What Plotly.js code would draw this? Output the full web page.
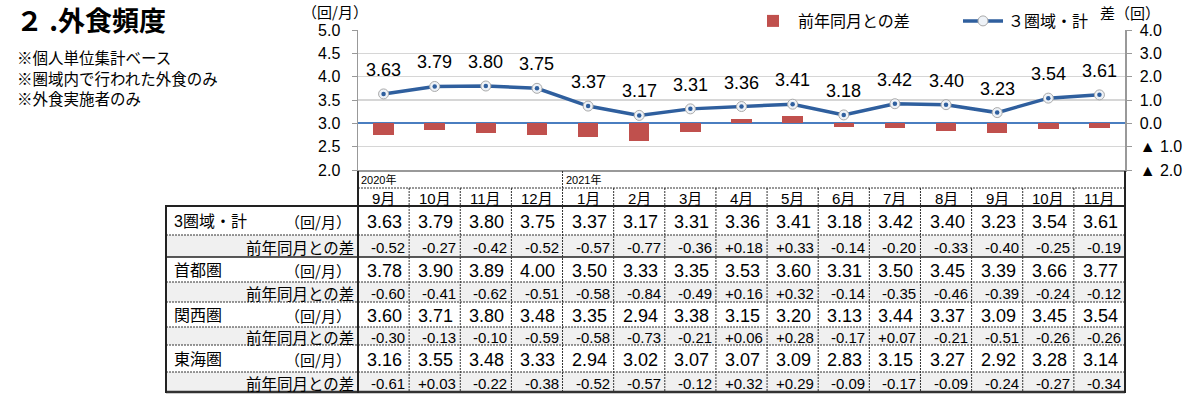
<!DOCTYPE html>
<html><head><meta charset="utf-8">
<script src="https://cdn.plot.ly/plotly-3.0.1.min.js"></script>
<style>html,body{margin:0;padding:0;background:#fff;} #chart{width:1200px;height:394px;}</style>
</head><body><div id="chart"></div>
<script>
// ---------------- data ----------------
const months = ['9月','10月','11月','12月','1月','2月','3月','4月','5月','6月','7月','8月','9月','10月','11月'];
const yearLabels = ['2020年','2021年'];
const yearStartIndex = [0, 4];

const total     = [3.63,3.79,3.80,3.75,3.37,3.17,3.31,3.36,3.41,3.18,3.42,3.40,3.23,3.54,3.61];
const totalDiff = [-0.52,-0.27,-0.42,-0.52,-0.57,-0.77,-0.36,0.18,0.33,-0.14,-0.20,-0.33,-0.40,-0.25,-0.19];
const shuto     = [3.78,3.90,3.89,4.00,3.50,3.33,3.35,3.53,3.60,3.31,3.50,3.45,3.39,3.66,3.77];
const shutoDiff = [-0.60,-0.41,-0.62,-0.51,-0.58,-0.84,-0.49,0.16,0.32,-0.14,-0.35,-0.46,-0.39,-0.24,-0.12];
const kansai    = [3.60,3.71,3.80,3.48,3.35,2.94,3.38,3.15,3.20,3.13,3.44,3.37,3.09,3.45,3.54];
const kansaiDiff= [-0.30,-0.13,-0.10,-0.59,-0.58,-0.73,-0.21,0.06,0.28,-0.17,0.07,-0.21,-0.51,-0.26,-0.26];
const tokai     = [3.16,3.55,3.48,3.33,2.94,3.02,3.07,3.07,3.09,2.83,3.15,3.27,2.92,3.28,3.14];
const tokaiDiff = [-0.61,0.03,-0.22,-0.38,-0.52,-0.57,-0.12,0.32,0.29,-0.09,-0.17,-0.09,-0.24,-0.27,-0.34];

const regionNames = ['3圏域・計','首都圏','関西圏','東海圏'];
const unitLabel = '（回/月）';
const diffLabel = '前年同月との差';
const lineName = '３圏域・計';
const barName = '前年同月との差';

const rightTickVals = [4,3,2,1,0,-1,-2];
const rightTickText = ['4.0','3.0','2.0','1.0','0.0','▲ 1.0','▲ 2.0'];
const titleText = '２ .外食頻度';
const notes = ['※個人単位集計ベース','※圏域内で行われた外食のみ','※外食実施者のみ'];
const leftAxisTitle = '（回/月）';
const rightAxisTitle = '差（回）';

// ---------------- geometry (pixels) ----------------
const L = 358, R = 1125, T = 30, B = 170;
const px2x = p => (p - L) / (R - L);
const py2y = p => (B - p) / (B - T);
const rowLines = [206, 235, 257, 282, 302, 327, 345, 372, 392];
const tableLeft = 166;

const regionValues = [total, shuto, kansai, tokai];
const regionDiffs = [totalDiff, shutoDiff, kansaiDiff, tokaiDiff];
const idx = months.map((m, i) => i);

const FONT = 'Liberation Sans, Arial, Noto Sans CJK JP, sans-serif';
const JP = 'Noto Sans CJK JP, sans-serif';
const fmtDiff = v => (v > 0 ? '+' : '') + v.toFixed(2);

// ---------------- traces ----------------
const traces = [
  {
    type: 'bar', name: barName, x: idx, y: totalDiff, yaxis: 'y2',
    width: 0.4, marker: {color: '#C0504D'}, hoverinfo: 'skip'
  },
  {
    type: 'scatter', mode: 'lines+markers', name: lineName, x: idx, y: total,
    line: {color: '#2F5F9E', width: 3.5},
    marker: {size: 10, color: '#EEF2F7', line: {color: '#AAAAAA', width: 1}},
    hoverinfo: 'skip'
  },
  {
    type: 'scatter', mode: 'markers', x: idx, y: total, showlegend: false,
    marker: {size: 4.5, color: '#2F5F9E'}, hoverinfo: 'skip'
  }
];

// ---------------- shapes ----------------
const shapes = [];
const dotted = {color: '#333', width: 1, dash: '2px,1px'};
for (let r = 1; r < 8; r += 2) {
  shapes.push({type: 'rect', xref: 'paper', yref: 'paper', layer: 'below',
    x0: px2x(tableLeft), x1: 1, y0: py2y(rowLines[r]), y1: py2y(rowLines[r + 1]),
    fillcolor: '#F0F0F0', line: {width: 0}});
}
rowLines.forEach((p, k) => {
  let line;
  if (k === 0) line = {color: '#222', width: 2};
  else if (k === 2) line = {color: '#222', width: 1.5};
  else if (k === rowLines.length - 1) line = {color: '#333', width: 2.5};
  else line = dotted;
  shapes.push({type: 'line', xref: 'paper', yref: 'paper',
    x0: px2x(tableLeft), x1: 1, y0: py2y(p), y1: py2y(p), line});
});
shapes.push({type: 'line', xref: 'paper', yref: 'paper', x0: 0, x1: 1,
  y0: py2y(188), y1: py2y(188), line: dotted});
shapes.push({type: 'line', xref: 'paper', yref: 'paper', x0: px2x(tableLeft), x1: px2x(tableLeft),
  y0: py2y(205), y1: py2y(393), line: {color: '#222', width: 2}});
shapes.push({type: 'line', xref: 'paper', yref: 'paper', x0: 0, x1: 0,
  y0: py2y(171), y1: py2y(393), line: {color: '#222', width: 2}});
shapes.push({type: 'line', xref: 'paper', yref: 'paper', x0: 1, x1: 1,
  y0: py2y(171), y1: py2y(393), line: {color: '#222', width: 2}});
for (let k = 1; k < months.length; k++) {
  const top = yearStartIndex.includes(k) ? 171 : 188;
  shapes.push({type: 'line', xref: 'x', yref: 'paper', x0: k - 0.5, x1: k - 0.5,
    y0: py2y(top), y1: py2y(392), line: dotted});
}

// ---------------- annotations ----------------
const ann = [];
ann.push({xref: 'paper', yref: 'paper', x: px2x(14), y: py2y(19), xanchor: 'left', yanchor: 'middle',
  text: '<b>' + titleText + '</b>', showarrow: false, font: {family: JP, size: 27, color: '#000'}});
notes.forEach((n, i) => ann.push({xref: 'paper', yref: 'paper', x: px2x(15), y: py2y(57 + i * 20.5),
  xanchor: 'left', yanchor: 'middle', text: n, showarrow: false, font: {family: JP, size: 15.5, color: '#000'}}));
ann.push({xref: 'paper', yref: 'paper', x: px2x(335), y: py2y(11), xanchor: 'center', yanchor: 'middle',
  text: leftAxisTitle, showarrow: false, font: {family: JP, size: 15, color: '#000'}});
ann.push({xref: 'paper', yref: 'paper', x: px2x(1130), y: py2y(12), xanchor: 'center', yanchor: 'middle',
  text: rightAxisTitle, showarrow: false, font: {family: JP, size: 15, color: '#000'}});
total.forEach((v, i) => ann.push({xref: 'x', yref: 'y', x: i, y: v, yshift: 12, xanchor: 'center',
  yanchor: 'bottom', text: v.toFixed(2), showarrow: false, font: {family: FONT, size: 18, color: '#000'}}));
yearLabels.forEach((t, i) => ann.push({xref: 'x', yref: 'paper', x: yearStartIndex[i] - 0.5, xshift: 1,
  y: py2y(179), xanchor: 'left', yanchor: 'middle', text: t, showarrow: false,
  font: {family: FONT, size: 11, color: '#000'}}));
months.forEach((m, i) => ann.push({xref: 'x', yref: 'paper', x: i, y: py2y(198), xanchor: 'center',
  yanchor: 'middle', text: m, showarrow: false, font: {family: FONT, size: 15, color: '#000'}}));
regionNames.forEach((name, r) => {
  const yc = py2y((rowLines[2 * r] + rowLines[2 * r + 1]) / 2 + 1);
  const yd = py2y((rowLines[2 * r + 1] + rowLines[2 * r + 2]) / 2 + 1);
  ann.push({xref: 'paper', yref: 'paper', x: px2x(172), y: yc, xanchor: 'left', yanchor: 'middle',
    text: name, showarrow: false, font: {family: FONT, size: 16, color: '#000'}});
  ann.push({xref: 'paper', yref: 'paper', x: px2x(353), y: yc, xanchor: 'right', yanchor: 'middle',
    text: unitLabel, showarrow: false, font: {family: JP, size: 15, color: '#000'}});
  ann.push({xref: 'paper', yref: 'paper', x: px2x(356), y: yd, xanchor: 'right', yanchor: 'middle',
    text: diffLabel, showarrow: false, font: {family: JP, size: 15.5, color: '#000'}});
  regionValues[r].forEach((v, i) => ann.push({xref: 'x', yref: 'paper', x: i, xshift: 1, y: yc,
    xanchor: 'center', yanchor: 'middle', text: v.toFixed(2), showarrow: false,
    font: {family: FONT, size: 18, color: '#000'}}));
  regionDiffs[r].forEach((v, i) => ann.push({xref: 'x', yref: 'paper', x: i + 0.5, xshift: -2, y: yd,
    xanchor: 'right', yanchor: 'middle', text: fmtDiff(v), showarrow: false,
    font: {family: FONT, size: 15, color: '#000'}}));
});

// ---------------- layout ----------------
const layout = {
  width: 1200, height: 394,
  margin: {l: L, r: 1200 - R, t: T, b: 394 - B, pad: 0, autoexpand: false},
  paper_bgcolor: '#fff', plot_bgcolor: '#fff',
  font: {family: FONT, size: 15, color: '#000'},
  showlegend: true,
  legend: {orientation: 'h', x: px2x(748), y: py2y(4), xanchor: 'left', yanchor: 'top',
    itemwidth: 40, entrywidth: 155, entrywidthmode: 'pixels', traceorder: 'normal',
    bgcolor: 'rgba(0,0,0,0)', font: {family: JP, size: 16, color: '#000'}},
  bargap: 0,
  xaxis: {range: [-0.5, 14.5], showticklabels: false, ticks: '', showgrid: false, zeroline: false,
    showline: true, linecolor: '#999', linewidth: 1.5, fixedrange: true},
  yaxis: {range: [2, 5], dtick: 0.5, tick0: 2, tickformat: '.1f', showgrid: true, gridcolor: '#D6D6D6',
    gridwidth: 1.5, zeroline: false, showline: true, linecolor: '#999', linewidth: 1.5,
    ticks: 'outside', ticklen: 5, tickcolor: '#999', ticklabelstandoff: 8,
    tickfont: {family: FONT, size: 16, color: '#000'}},
  yaxis2: {range: [-2, 4], overlaying: 'y', side: 'right', tickvals: rightTickVals, ticktext: rightTickText,
    showgrid: false, zeroline: true, zerolinecolor: '#4A7EC0', zerolinewidth: 2,
    showline: true, linecolor: '#999', linewidth: 1.5, ticks: 'outside', ticklen: 5, tickcolor: '#999',
    ticklabelstandoff: 5, tickfont: {family: FONT, size: 16, color: '#000'}},
  shapes: shapes,
  annotations: ann
};

Plotly.newPlot('chart', traces, layout, {displayModeBar: false, staticPlot: true});
</script>
</body></html>
